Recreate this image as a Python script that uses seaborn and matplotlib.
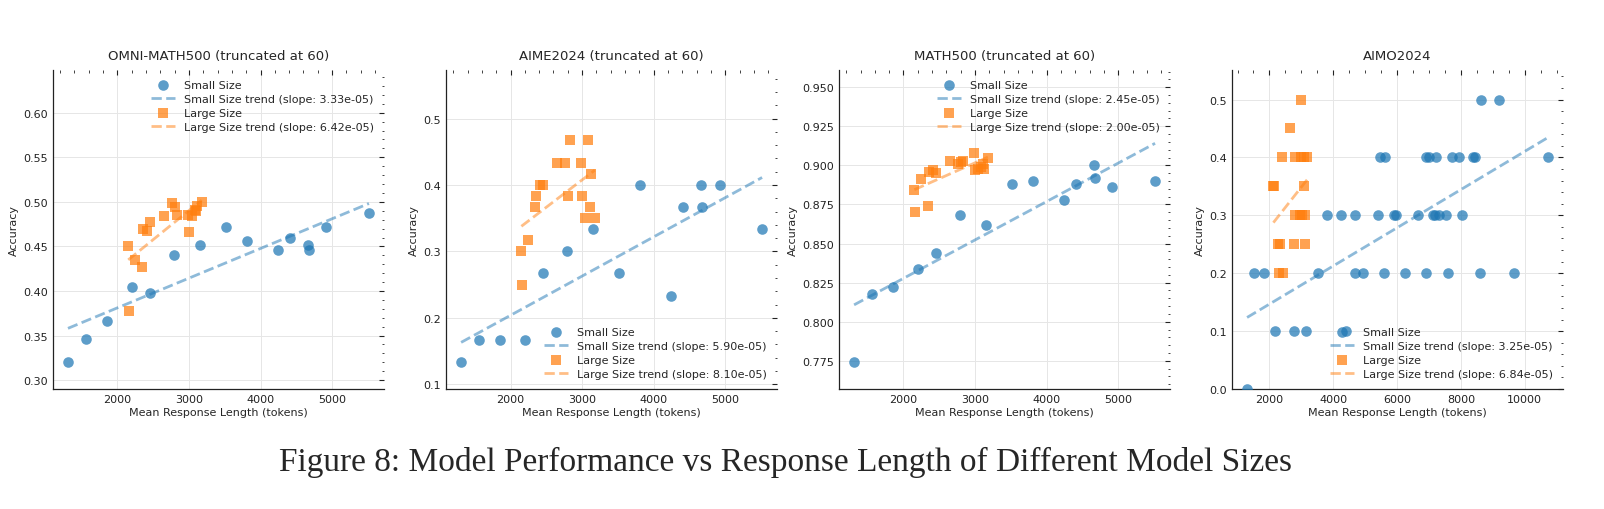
import numpy as np
import pandas as pd
import matplotlib
matplotlib.use("Agg")
import matplotlib.pyplot as plt
import seaborn as sns
from matplotlib.ticker import AutoMinorLocator

# mean response length (tokens) of the models, shared by the truncated benchmarks
small_len = [1310, 1565, 1855, 2200, 2450, 2790, 3150, 3515, 3810, 4240, 4405, 4665, 4680, 4920, 5515]
large_len = [2152, 2157, 2244, 2340, 2363, 2409, 2455, 2652, 2766, 2807, 2835, 2986, 3004, 3041, 3078, 3105, 3119, 3179]

omni_small_acc = [0.320, 0.346, 0.366, 0.404, 0.398, 0.440, 0.452, 0.472, 0.456, 0.446, 0.460, 0.452, 0.446, 0.472, 0.488]
omni_large_acc = [0.451, 0.378, 0.435, 0.427, 0.470, 0.467, 0.477, 0.484, 0.499, 0.494, 0.485, 0.485, 0.466, 0.484, 0.491, 0.490, 0.495, 0.500]

aime_small_acc = [0.133, 0.167, 0.167, 0.167, 0.267, 0.300, 0.333, 0.267, 0.400, 0.233, 0.367, 0.400, 0.367, 0.400, 0.333]
aime_large_acc = [0.300, 0.250, 0.317, 0.367, 0.383, 0.400, 0.400, 0.433, 0.433, 0.383, 0.467, 0.433, 0.383, 0.350, 0.467, 0.367, 0.417, 0.350]

math_small_acc = [0.774, 0.818, 0.822, 0.834, 0.844, 0.868, 0.862, 0.888, 0.890, 0.878, 0.888, 0.900, 0.892, 0.886, 0.890]
math_large_acc = [0.884, 0.870, 0.891, 0.874, 0.896, 0.897, 0.895, 0.903, 0.901, 0.902, 0.903, 0.908, 0.897, 0.898, 0.899, 0.901, 0.898, 0.905]

# AIMO2024 is not truncated, lengths differ
aimo_small_len = [1300,
                  2188, 2784, 3150, 4395,
                  1529, 1843, 3516, 4667, 4928, 5577, 6235, 6894, 7595, 8609, 9655,
                  3799, 4228, 4667, 5399, 5901, 5954, 6654, 7124, 7197, 7302, 7522, 8034,
                  5472, 5608, 6914, 6988, 7208, 7720, 7930, 8379, 8432, 10732,
                  8620, 9195]
aimo_small_acc = [0.0] + [0.1] * 4 + [0.2] * 11 + [0.3] * 12 + [0.4] * 10 + [0.5] * 2
aimo_large_len = [3004, 2648,
                  2397, 2805, 2990, 3098, 3192,
                  2125, 2157, 3098,
                  2805, 2950, 3030, 3130,
                  2261, 2345, 2763, 3119,
                  2314, 2418]
aimo_large_acc = [0.5, 0.45] + [0.4] * 5 + [0.35] * 3 + [0.3] * 4 + [0.25] * 4 + [0.2] * 2

titles = ["OMNI-MATH500 (truncated at 60)", "AIME2024 (truncated at 60)",
          "MATH500 (truncated at 60)", "AIMO2024"]
small_slopes = ["3.33e-05", "5.90e-05", "2.45e-05", "3.25e-05"]
large_slopes = ["6.42e-05", "8.10e-05", "2.00e-05", "6.84e-05"]

panels = [
    (small_len, omni_small_acc, large_len, omni_large_acc, (0.29, 0.648), "upper right"),
    (small_len, aime_small_acc, large_len, aime_large_acc, (0.093, 0.573), "lower right"),
    (small_len, math_small_acc, large_len, math_large_acc, (0.757, 0.961), "upper right"),
    (aimo_small_len, aimo_small_acc, aimo_large_len, aimo_large_acc, (0.0, 0.551), "lower right"),
]

sns.set_style("white")
plt.rcParams['font.family'] = ['DejaVu Sans']

blue = "#1f77b4"
orange = "#ff7f0e"

fig = plt.figure(figsize=(16.04, 5.10), dpi=100)
lefts = [0.0330, 0.2781, 0.5231, 0.7681]

for i, (sx, sy, lx, ly, ylim, loc) in enumerate(panels):
    ax = fig.add_axes([lefts[i], 0.2353, 0.2064, 0.6255])
    df_s = pd.DataFrame({"len": sx, "acc": sy})
    df_l = pd.DataFrame({"len": lx, "acc": ly})

    sns.scatterplot(data=df_s, x="len", y="acc", ax=ax, color=blue, marker="o",
                    s=58, alpha=0.72, linewidth=0, label="Small Size", zorder=3)
    p = np.polyfit(df_s["len"], df_s["acc"], 1)
    xs = np.array([df_s["len"].min(), df_s["len"].max()])
    ax.plot(xs, np.polyval(p, xs), "--", color=blue, alpha=0.5, lw=2,
            label=f"Small Size trend (slope: {small_slopes[i]})", zorder=2)

    sns.scatterplot(data=df_l, x="len", y="acc", ax=ax, color=orange, marker="s",
                    s=52, alpha=0.72, linewidth=0, label="Large Size", zorder=3)
    p = np.polyfit(df_l["len"], df_l["acc"], 1)
    xl = np.array([df_l["len"].min(), df_l["len"].max()])
    ax.plot(xl, np.polyval(p, xl), "--", color=orange, alpha=0.5, lw=2,
            label=f"Large Size trend (slope: {large_slopes[i]})", zorder=2)

    ax.set_ylim(*ylim)
    ax.set_title(titles[i], fontsize=9.5, pad=8)
    ax.set_xlabel("Mean Response Length (tokens)", fontsize=8, labelpad=2)
    ax.set_ylabel("Accuracy", fontsize=8, labelpad=3)
    ax.grid(True, color="#e6e6e6", lw=0.7)
    ax.set_axisbelow(True)
    ax.xaxis.set_minor_locator(AutoMinorLocator())
    ax.yaxis.set_minor_locator(AutoMinorLocator())
    ax.tick_params(which="both", direction="in", top=True, right=True, labelsize=8, colors="#222222")
    ax.tick_params(which="major", length=3.5, width=0.8)
    ax.tick_params(which="minor", length=1.8, width=0.6)
    for side in ["top", "right"]:
        ax.spines[side].set_visible(False)
    for side in ["left", "bottom"]:
        ax.spines[side].set_color("#222222")
        ax.spines[side].set_linewidth(0.9)
    ax.legend(loc=loc, frameon=False, fontsize=8, handlelength=2.2, labelspacing=0.35)

fig.text(0.49, 0.094, "Figure 8: Model Performance vs Response Length of Different Model Sizes",
         ha="center", va="center", fontsize=24, family=["Liberation Serif"])

fig.savefig("out.png", dpi=100)
